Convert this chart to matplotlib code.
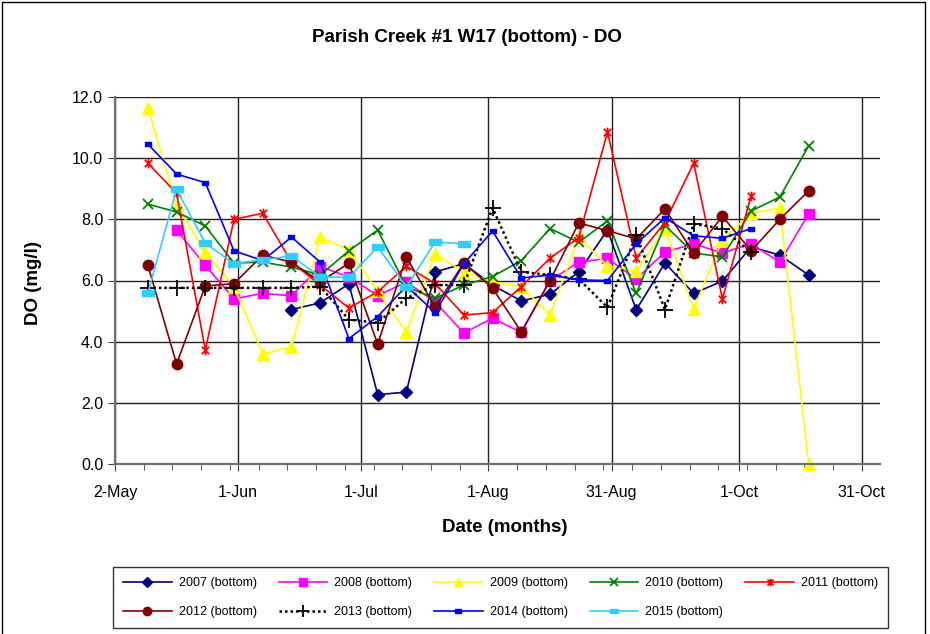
import numpy as np
import pandas as pd
import matplotlib
matplotlib.use('Agg')
from matplotlib import pyplot as plt
import matplotlib.dates as mdates
from matplotlib.path import Path
from matplotlib.patches import Rectangle
from matplotlib.ticker import FuncFormatter, FixedLocator

plt.rcParams['font.family'] = ['Liberation Sans', 'DejaVu Sans']

# sampling dates (weekly, same for every year)
dates = ['10-May', '17-May', '24-May', '31-May', '7-Jun', '14-Jun', '21-Jun', '28-Jun',
         '5-Jul', '12-Jul', '19-Jul', '26-Jul', '2-Aug', '9-Aug', '16-Aug', '23-Aug',
         '30-Aug', '6-Sep', '13-Sep', '20-Sep', '27-Sep', '4-Oct', '11-Oct', '18-Oct']

do_2007 = [None, None, None, None, None, 5.05, 5.27, 5.89, 2.27, 2.35, 6.28, 6.55,
           5.85, 5.33, 5.55, 6.28, 7.65, 5.04, 6.57, 5.58, 5.98, 7.1, 6.83, 6.18]
do_2008 = [None, 7.65, 6.5, 5.4, 5.58, 5.5, 6.45, 6.12, 5.5, 5.95, 5.3, 4.28,
           4.77, 4.3, 6.0, 6.6, 6.72, 6.05, 6.93, 7.2, 6.9, 7.2, 6.6, 8.17]
do_2009 = [11.64, 8.47, 6.93, 5.8, 3.6, 3.83, 7.42, 7.0, 5.65, 4.32, 6.87, 6.28,
           5.95, 5.8, 4.88, 7.42, 6.47, 6.3, 7.7, 5.07, 7.33, 8.2, 8.37, 0.0]
do_2010 = [8.5, 8.24, 7.78, 6.57, 6.6, 6.44, 6.18, 6.97, 7.65, 5.79, 5.42, 5.85,
           6.13, 6.65, 7.7, 7.25, 7.95, 5.58, 7.8, 6.9, 6.77, 8.27, 8.73, 10.4]
do_2011 = [9.84, 8.85, 3.73, 8.0, 8.2, 6.6, 5.85, 5.1, 5.63, 6.47, 5.9, 4.87,
           4.95, 5.8, 6.73, 7.4, 10.86, 6.73, 7.9, 9.84, 5.4, 8.77, None, None]
do_2012 = [6.5, 3.27, 5.82, 5.9, 6.83, 6.6, 5.95, 6.57, 3.92, 6.77, 5.13, 6.57,
           5.75, 4.32, 6.0, 7.88, 7.63, 7.36, 8.34, 6.9, 8.1, 6.97, 8.0, 8.93]
do_2013 = [5.76, 5.76, 5.76, 5.76, 5.76, 5.76, 5.8, 4.72, 4.62, 5.42, 5.85, 5.85,
           8.37, 6.28, 6.18, 6.05, 5.12, 7.48, 5.05, 7.85, 7.7, 6.92, None, None]
do_2014 = [10.46, 9.48, 9.2, 6.97, 6.65, 7.42, 6.6, 4.1, 4.82, 5.82, 4.95, 6.55,
           7.62, 6.08, 6.18, 6.02, 6.0, 7.2, 8.05, 7.46, 7.38, 7.7, None, None]
do_2015 = [5.58, 8.98, 7.22, 6.55, 6.68, 6.8, 6.12, 6.1, 7.1, 5.79, 7.26, 7.2,
           None, None, None, None, None, None, None, None, None, None, None, None]

x_ticks = ['2-May', '1-Jun', '1-Jul', '1-Aug', '31-Aug', '1-Oct', '31-Oct']

# marker shapes (excel style)
star = Path([(-1, -1), (1, 1), (-1, 1), (1, -1), (0, -1.3), (0, 1.3)],
            [Path.MOVETO, Path.LINETO, Path.MOVETO, Path.LINETO, Path.MOVETO, Path.LINETO])
dash = Path([(-1, -0.55), (1, -0.55), (1, 0.55), (-1, 0.55), (-1, -0.55)],
            [Path.MOVETO, Path.LINETO, Path.LINETO, Path.LINETO, Path.CLOSEPOLY])

series = [
    ('2007 (bottom)', do_2007, '#000080', 'D', 6, '-'),
    ('2008 (bottom)', do_2008, '#FF00FF', 's', 7, '-'),
    ('2009 (bottom)', do_2009, '#FFFF00', '^', 8, '-'),
    ('2010 (bottom)', do_2010, '#008000', 'x', 7, '-'),
    ('2011 (bottom)', do_2011, '#FF0000', star, 7, '-'),
    ('2012 (bottom)', do_2012, '#800000', 'o', 7.5, '-'),
    ('2013 (bottom)', do_2013, '#000000', '+', 11, (0, (1, 1.2))),
    ('2014 (bottom)', do_2014, '#0000FF', dash, 5, '-'),
    ('2015 (bottom)', do_2015, '#33CCFF', dash, 8, '-'),
]


def to_date(s):
    return pd.to_datetime(s + '-2000', format='%d-%b-%Y')


x = [to_date(d) for d in dates]

fig = plt.figure(figsize=(9.3, 6.34), dpi=100)
ax = fig.add_axes([115 / 930, 1 - 464 / 634, (880 - 115) / 930, (464 - 97) / 634])

handles = []
for label, vals, color, marker, ms, ls in series:
    y = np.array(vals, dtype=float)
    lw = 1.8 if ls != '-' else 1.2
    mew = 1.3 if (isinstance(marker, str) and marker in 'x+') or marker is star else 1.0
    h, = ax.plot(x, y, linestyle=ls, color=color, lw=lw, marker=marker, markersize=ms,
                 markerfacecolor=color, markeredgecolor=color, markeredgewidth=mew,
                 label=label, clip_on=False)
    handles.append(h)

x0 = to_date('2-May')
ax.set_xlim(x0, x0 + pd.Timedelta(days=186.4))
ax.set_ylim(0, 12)
ax.set_yticks(np.arange(0, 12.1, 2.0))
ax.yaxis.set_major_formatter(FuncFormatter(lambda v, p: f'{v:.1f}'))

major = [mdates.date2num(to_date(t)) for t in x_ticks]
ax.xaxis.set_major_locator(FixedLocator(major))
ax.xaxis.set_major_formatter(FuncFormatter(
    lambda v, p: f"{mdates.num2date(v).day}-{mdates.num2date(v).strftime('%b')}"))
minor = pd.date_range(x0, x0 + pd.Timedelta(days=186), freq='7D')
ax.xaxis.set_minor_locator(FixedLocator([mdates.date2num(d) for d in minor]))

ax.grid(True, which='major', color='#222222', lw=1.0)
ax.set_axisbelow(True)
for s in ['top', 'right']:
    ax.spines[s].set_visible(False)
for s in ['left', 'bottom']:
    ax.spines[s].set_color('#707070')
    ax.spines[s].set_linewidth(1.6)
ax.tick_params(axis='both', which='major', labelsize=11.5, length=5, color='#404040')
ax.tick_params(axis='x', which='minor', length=4, color='#404040')
ax.tick_params(axis='x', which='major', pad=10)

ax.set_xlabel('Date (months)', fontsize=13.5, fontweight='bold')
ax.xaxis.set_label_coords((505 - 115) / 765, (464 - 528) / 367)
ax.xaxis.label.set_va('center')
ax.set_ylabel('DO (mg/l)', fontsize=13.5, fontweight='bold')
ax.yaxis.set_label_coords((33 - 115) / 765, (464 - 283) / 367)
ax.yaxis.label.set_va('center')
fig.text(467 / 930, 1 - 38 / 634, 'Parish Creek #1 W17 (bottom) - DO',
         ha='center', va='center', fontsize=13.5, fontweight='bold')

# legend laid out row by row like excel
order = [0, 5, 1, 6, 2, 7, 3, 8, 4]
leg = fig.legend([handles[i] for i in order], [series[i][0] for i in order],
                 loc='upper left', bbox_to_anchor=(113 / 930, 0, 775 / 930, 1 - 567 / 634),
                 mode='expand', ncol=5, fontsize=9, handlelength=3.9, frameon=True,
                 fancybox=False, edgecolor='black', borderaxespad=0, handletextpad=0.55,
                 labelspacing=1.35, borderpad=0.8, markerscale=0.8)
leg.get_frame().set_linewidth(1.0)

fig.patches.append(Rectangle((2 / 930, -0.01), 923 / 930, 1.0 - 2 / 634 + 0.01,
                             transform=fig.transFigure, fill=False, edgecolor='black', lw=1.0))

plt.savefig('out.png', dpi=100)
